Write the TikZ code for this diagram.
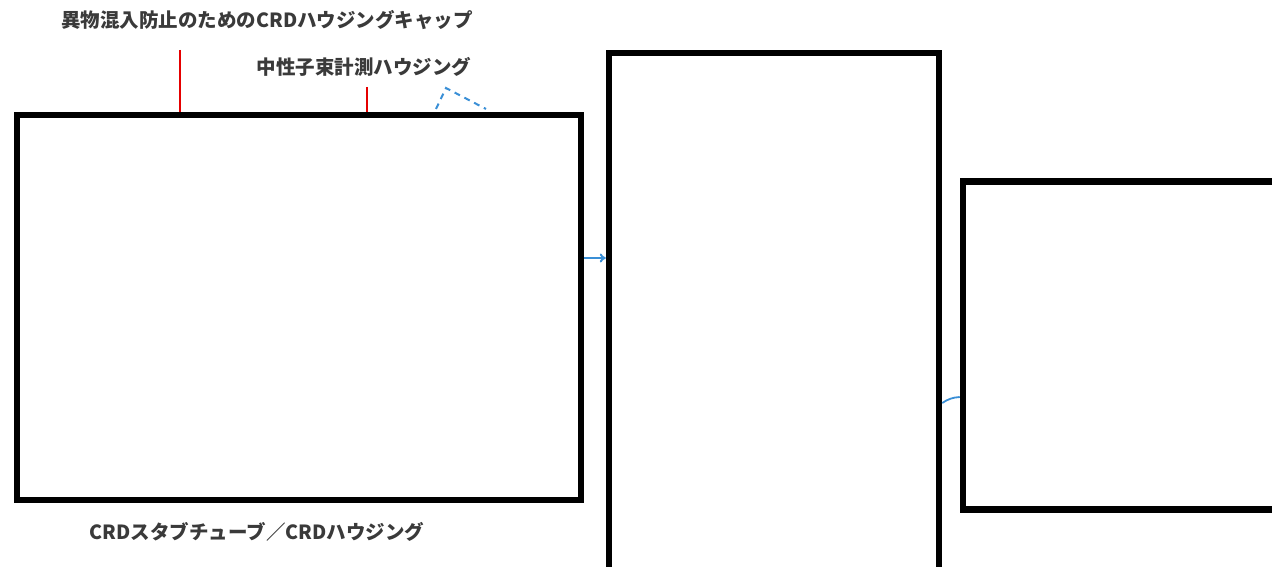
\documentclass[tikz,border=0pt]{standalone}
\usepackage{fontspec}
\newfontfamily\jpfont{Noto Sans CJK JP}
\usetikzlibrary{arrows.meta}
\definecolor{lblue}{HTML}{3A8FD6}
\definecolor{tgray}{HTML}{3A3A3A}
\tikzset{
  box/.style={draw=black, line width=6.5pt, fill=none, inner sep=0pt, line join=miter},
  lbl/.style={font=\jpfont\bfseries\fontsize{19.5}{22}\selectfont, text=tgray, inner sep=0pt},
  redline/.style={draw=red!90!black, line width=2.5pt},
  blueline/.style={draw=lblue, line width=2pt},
  bluedash/.style={draw=lblue, line width=2pt, dash pattern=on 6pt off 5pt}
}
\begin{document}
\begin{tikzpicture}[x=1pt,y=-1pt]
\useasboundingbox (0,0) rectangle (1272,567);
\clip (0,0) rectangle (1272,567);
% boxes
\node[box, minimum width=564pt, minimum height=385pt] (b1) at (299,307.5) {};
\node[box, minimum width=330pt, minimum height=518pt] (b2) at (774,312) {};
\node[box, minimum width=330pt, minimum height=328pt] (b3) at (1128,345.5) {};
% labels
\node[lbl] (t1) at (267,20) {異物混入防止のためのCRDハウジングキャップ};
\node[lbl] (t2) at (364,67) {中性子束計測ハウジング};
\node[lbl] (t3) at (257,532) {CRDスタブチューブ／CRDハウジング};
% red leaders
\coordinate (r1) at (180,50);
\coordinate (r2) at (367,87);
\draw[redline] (r1) -- (r1 |- b1.north);
\draw[redline] (r2) -- (r2 |- b1.north);
% blue dashed mark
\coordinate (d1) at (436,109);
\coordinate (dap) at (446,88);
\coordinate (d2) at (486,109);
\draw[bluedash] (d1) -- (dap) -- (d2);
% arrow b1 -> b2
\coordinate (ay) at (0,258);
\draw[blueline, -{To[length=6pt,width=9pt]}] (b1.east |- ay) -- (b2.west |- ay);
% link b2 -> b3
\coordinate (ly1) at (0,403);
\coordinate (ly2) at (0,397);
\draw[blueline, line width=1.8pt] (b2.east |- ly1) to[bend left=15] (b3.west |- ly2);
\end{tikzpicture}
\end{document}
